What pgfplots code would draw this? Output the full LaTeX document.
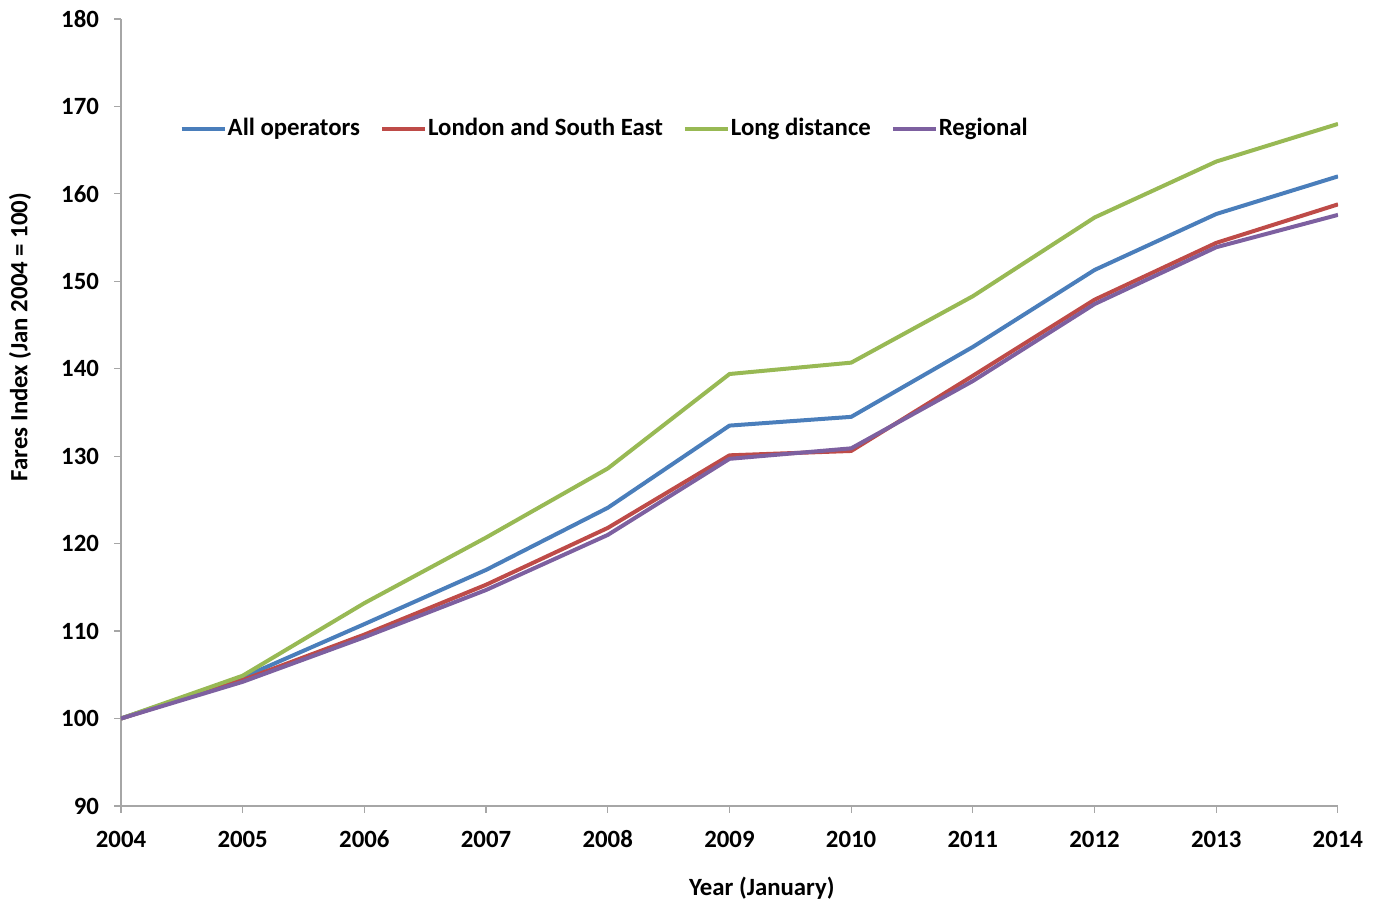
\documentclass[border=0pt]{standalone}
\usepackage{fontspec}
\setmainfont{Carlito}
\usepackage{pgfplots}
\pgfplotsset{compat=1.18}
\definecolor{cAll}{HTML}{4A7EBB}
\definecolor{cLSE}{HTML}{BE4B48}
\definecolor{cLong}{HTML}{98B954}
\definecolor{cReg}{HTML}{7D60A0}
\newcommand{\chartfont}{\fontsize{12.4}{14}\selectfont\bfseries}
\begin{document}
\begin{tikzpicture}
\begin{axis}[
  name=ax,
  scale only axis,
  width=608.5pt, height=393.5pt,
  xmin=2004, xmax=2014, ymin=90, ymax=180,
  xtick={2004,...,2014}, ytick={90,100,...,180},
  /pgf/number format/set thousands separator={},
  /pgf/number format/assume math mode=true,
  axis lines*=left,
  axis line style={draw=gray!70, line width=0.6pt},
  tick style={draw=gray!70, line width=0.6pt},
  tick align=outside, major tick length=3.5pt,
  tick label style={font=\chartfont},
  xticklabel style={anchor=north, text height=8.5pt, text depth=0pt, yshift=-5pt},
  yticklabel style={anchor=east, xshift=-4pt},
  label style={font=\chartfont},
  xlabel={Year (January)},
  ylabel={Fares Index (Jan 2004 = 100)},
  xlabel style={at={(axis description cs:0.5265,-0.104)}, anchor=center},
  ylabel style={at={(axis description cs:-0.083,0.596)}, anchor=center},
  legend columns=-1,
  legend style={draw=none, fill=none, at={(axis description cs:0.043,0.8605)}, anchor=west,
    font=\chartfont,
    /tikz/every even column/.append style={column sep=0pt},
    /tikz/every odd column/.append style={column sep=0pt},
    nodes={inner sep=0.5pt}},
  legend image code/.code={\draw[#1] (0pt,0pt) -- (21.5pt,0pt);},
  every axis plot/.append style={line width=2pt, line join=round, mark=none},
]
\addplot[cAll] coordinates {(2004,100) (2005,104.7) (2006,110.8) (2007,117.0) (2008,124.1) (2009,133.5) (2010,134.5) (2011,142.5) (2012,151.3) (2013,157.7) (2014,162.0)};
\addlegendentry{All operators\kern9.5pt}
\addplot[cLSE] coordinates {(2004,100) (2005,104.4) (2006,109.6) (2007,115.3) (2008,121.8) (2009,130.1) (2010,130.6) (2011,139.2) (2012,147.9) (2013,154.4) (2014,158.8)};
\addlegendentry{London and South East\kern9.5pt}
\addplot[cLong] coordinates {(2004,100) (2005,104.9) (2006,113.2) (2007,120.7) (2008,128.6) (2009,139.4) (2010,140.7) (2011,148.3) (2012,157.3) (2013,163.7) (2014,168.0)};
\addlegendentry{Long distance\kern9.5pt}
\addplot[cReg] coordinates {(2004,100) (2005,104.2) (2006,109.3) (2007,114.7) (2008,121.0) (2009,129.7) (2010,130.9) (2011,138.6) (2012,147.4) (2013,153.9) (2014,157.6)};
\addlegendentry{Regional}
\end{axis}
\pgfresetboundingbox
\path[use as bounding box] ([xshift=-60.5pt,yshift=-48pt]ax.south west) rectangle ([xshift=20pt,yshift=9.5pt]ax.north east);
\end{tikzpicture}
\end{document}
